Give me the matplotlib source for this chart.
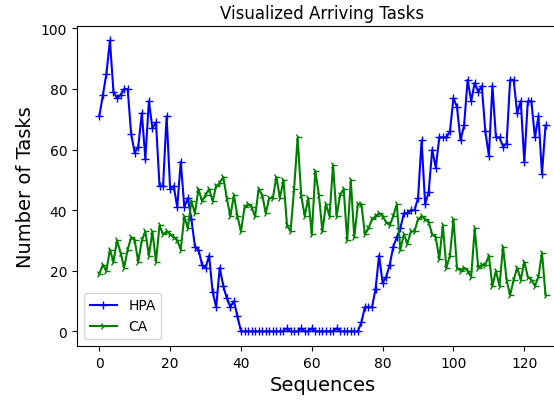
import matplotlib
matplotlib.use("Agg")
import matplotlib.pyplot as plt

# tareas que llegan en cada secuencia
hpa = [71, 78, 85, 96, 79, 77, 78, 80, 80, 65, 59, 61, 72, 57, 76, 67, 69,
       48, 48, 71, 47, 48, 41, 56, 41, 44, 37, 28, 27, 22, 21, 25, 13, 8,
       21, 15, 11, 8, 10, 5, 0,
       0, 0, 0, 0, 0, 0, 0, 0, 0, 0, 0, 0, 1, 0, 0, 0, 1, 0, 0, 1, 0, 0,
       0, 0, 0, 0, 1, 0, 0, 0, 0, 0, 0,
       3, 8, 8, 8, 14, 25, 16, 18, 22, 28, 31, 34, 39, 39, 40, 40,
       44, 63, 42, 46, 60, 54, 64, 64, 64, 66, 77, 74, 63, 68, 83, 76, 82,
       79, 81, 66, 58, 81, 64, 64, 61, 62, 83, 83, 72, 76, 56, 76, 76, 64,
       71, 52, 68]
ca = [19, 22, 20, 27, 23, 30, 26, 21, 27, 31, 30, 23, 30, 33, 25, 33, 23,
      35, 32, 33, 32, 31, 30, 27, 38, 34, 43, 39, 47, 43, 45, 47, 43, 48,
      49, 51, 44, 38, 45, 38, 33, 41, 42, 41, 38, 47, 45, 39, 44, 44, 51,
      44, 50, 35, 33, 47, 64, 45, 38, 44, 32, 53, 45, 33, 42, 38, 55, 38,
      45, 47, 30, 50, 31, 42, 42, 32, 34, 37, 38, 39, 38, 36, 35, 38, 42,
      27, 32, 29, 33, 33, 37, 38, 37, 36, 32, 31, 24, 35, 21, 25, 37, 21,
      20, 21, 20, 18, 34, 21, 22, 22, 25, 15, 20, 15, 28, 17, 12, 17, 21,
      17, 23, 18, 17, 15, 18, 26, 12]
secuencias = list(range(len(hpa)))

fig = plt.figure(figsize=(5.54, 4.02), dpi=100)
ax = fig.add_axes([0.139, 0.137, 0.886, 0.796])

ax.plot(secuencias, hpa, color="b", marker="+", label="HPA")
ax.plot(secuencias, ca, color="g", marker="4", label="CA")

ax.set_title("Visualized Arriving Tasks", fontsize=12)
ax.set_xlabel("Sequences", fontsize=14)
ax.set_ylabel("Number of Tasks", fontsize=14)
ax.legend(loc="lower left")

plt.savefig("out.png", dpi=100)
